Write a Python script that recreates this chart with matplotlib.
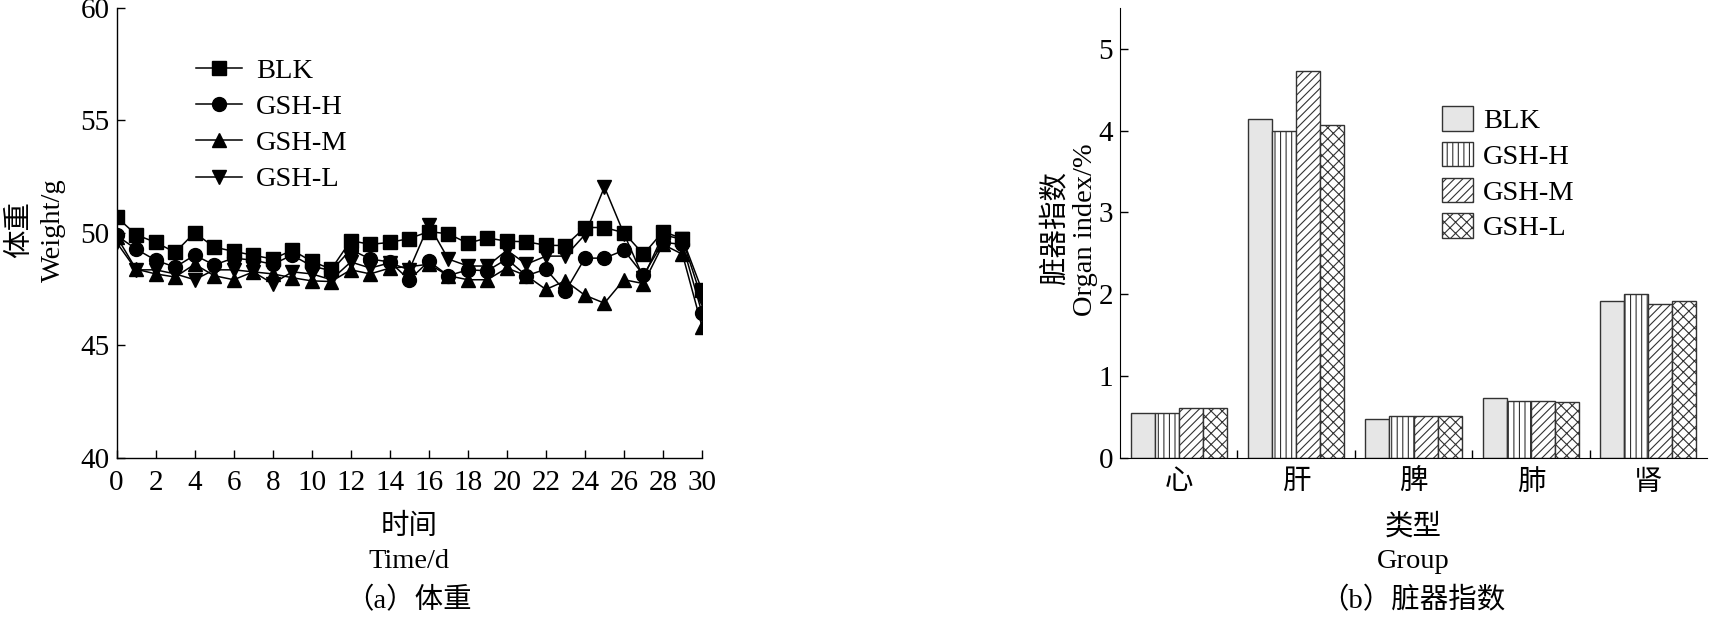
import matplotlib
matplotlib.use("Agg")
import matplotlib.pyplot as plt
import numpy as np

plt.rcParams['font.family'] = ['Liberation Serif', 'Noto Sans CJK SC']
plt.rcParams['hatch.color'] = '#333333'
plt.rcParams['hatch.linewidth'] = 0.8

# ---------------- data ----------------
days = list(range(0, 31))
blk = [50.70, 49.91, 49.57, 49.13, 50.00, 49.36, 49.17, 49.00, 48.83, 49.22,
       48.73, 48.38, 49.65, 49.48, 49.57, 49.74, 50.05, 49.95, 49.53, 49.77,
       49.62, 49.60, 49.44, 49.43, 50.23, 50.23, 50.00, 49.04, 50.05, 49.74, 47.44]
gsh_h = [49.88, 49.27, 48.78, 48.47, 49.00, 48.57, 48.87, 48.78, 48.60, 49.00,
         48.52, 48.31, 49.25, 48.83, 48.70, 47.91, 48.73, 48.09, 48.35, 48.31,
         48.83, 48.09, 48.38, 47.39, 48.87, 48.87, 49.22, 48.12, 49.57, 49.48, 46.43]
gsh_m = [49.83, 48.38, 48.17, 48.03, 48.60, 48.09, 47.91, 48.26, 48.17, 48.00,
         47.86, 47.83, 48.35, 48.17, 48.43, 48.49, 48.60, 48.09, 47.91, 47.91,
         48.43, 48.09, 47.48, 47.86, 47.22, 46.87, 47.91, 47.74, 49.48, 49.04, 45.83]
gsh_l = [49.57, 48.35, 48.35, 48.17, 47.91, 48.35, 48.35, 48.26, 47.74, 48.26,
         48.17, 47.91, 48.70, 48.43, 48.66, 48.35, 50.35, 48.83, 48.52, 48.52,
         49.22, 48.60, 48.96, 48.96, 49.91, 52.03, 49.95, 48.00, 49.91, 49.70, 47.04]
series_names = ['BLK', 'GSH-H', 'GSH-M', 'GSH-L']
series_markers = ['s', 'o', '^', 'v']
day_ticks = list(range(0, 31, 2))
weight_ticks = [40, 45, 50, 55, 60]

organs = ['心', '肝', '脾', '肺', '肾']
organ_blk = [0.55, 4.14, 0.47, 0.73, 1.92]
organ_h = [0.55, 4.00, 0.51, 0.70, 2.00]
organ_m = [0.615, 4.73, 0.51, 0.70, 1.88]
organ_l = [0.615, 4.07, 0.51, 0.68, 1.92]
organ_ticks = [0, 1, 2, 3, 4, 5]

FS = 20.5
TFS = 21
W, H = 1709, 617
fig = plt.figure(figsize=(W / 100, H / 100), dpi=100)

# ---------------- left: body weight ----------------
ax1 = fig.add_axes([116.6 / W, 1 - 457.8 / H, (702 - 116.6) / W, (457.8 - 7.6) / H])
for vals, name, mk in zip([blk, gsh_h, gsh_m, gsh_l], series_names, series_markers):
    ax1.plot(days, vals, color='black', lw=1.1, marker=mk, markersize=10,
             markerfacecolor='black', markeredgecolor='black', label=name)
ax1.set_xlim(0, 30)
ax1.set_ylim(40, 60)
ax1.set_xticks(day_ticks)
ax1.set_yticks(weight_ticks)
for s in ['top', 'right']:
    ax1.spines[s].set_visible(False)
for s in ['left', 'bottom']:
    ax1.spines[s].set_linewidth(1.0)
ax1.tick_params(direction='in', length=6, width=1.0, labelsize=TFS)
ax1.tick_params(axis='y', pad=5)
ax1.tick_params(axis='x', pad=9)
ax1.legend(loc='upper left', bbox_to_anchor=(196 / W, 1 - 58 / H),
           bbox_transform=fig.transFigure, frameon=False, fontsize=FS,
           handlelength=1.6, handletextpad=0.5, labelspacing=0.36,
           borderpad=0, borderaxespad=0)

fig.text(20 / W, 1 - 230 / H, '体重', rotation=90, ha='center', va='center', fontsize=FS)
fig.text(53 / W, 1 - 230 / H, 'Weight/g', rotation=90, ha='center', va='center', fontsize=FS)
fig.text(409 / W, 1 - 527 / H, '时间', ha='center', va='center', fontsize=FS)
fig.text(409 / W, 1 - 562 / H, 'Time/d', ha='center', va='center', fontsize=FS)
fig.text(409 / W, 1 - 601 / H, '（a）体重', ha='center', va='center', fontsize=FS)

# ---------------- right: organ index ----------------
ax2 = fig.add_axes([1120 / W, 1 - 457.8 / H, (1707 - 1120) / W, (457.8 - 8.0) / H])
x = np.arange(len(organs))
bw = 0.205
styles = [dict(facecolor='#e6e6e6', hatch=None),
          dict(facecolor='white', hatch='|||'),
          dict(facecolor='white', hatch='////'),
          dict(facecolor='white', hatch='xxx')]
for i, (vals, name, st) in enumerate(zip([organ_blk, organ_h, organ_m, organ_l], series_names, styles)):
    ax2.bar(x + (i - 1.5) * bw, vals, width=bw, edgecolor='#333333', linewidth=1.0,
            label=name, **st)
ax2.set_xlim(-0.5, 4.5)
ax2.set_ylim(0, 5.5)
ax2.set_yticks(organ_ticks)
ax2.set_xticks(x)
ax2.set_xticklabels(organs)
ax2.set_xticks(np.arange(0.5, 4.5, 1.0), minor=True)
for s in ['top', 'right']:
    ax2.spines[s].set_visible(False)
ax2.tick_params(axis='y', direction='in', length=6, width=1.0, labelsize=TFS, pad=5)
ax2.tick_params(axis='x', which='major', length=0, labelsize=FS, pad=9)
ax2.tick_params(axis='x', which='minor', direction='in', length=6, width=1.0)
ax2.legend(loc='upper left', bbox_to_anchor=(1442 / W, 1 - 106 / H),
           bbox_transform=fig.transFigure, frameon=False, fontsize=FS,
           handlelength=1.1, handleheight=0.95, handletextpad=0.35, labelspacing=0.27,
           borderpad=0, borderaxespad=0)

fig.text(1055 / W, 1 - 228 / H, '脏器指数', rotation=90, ha='center', va='center', fontsize=FS)
fig.text(1085 / W, 1 - 230 / H, 'Organ index/%', rotation=90, ha='center', va='center', fontsize=FS)
fig.text(1413 / W, 1 - 527 / H, '类型', ha='center', va='center', fontsize=FS)
fig.text(1413 / W, 1 - 562 / H, 'Group', ha='center', va='center', fontsize=FS)
fig.text(1413 / W, 1 - 601 / H, '（b）脏器指数', ha='center', va='center', fontsize=FS)

fig.savefig('out.png', dpi=100)
